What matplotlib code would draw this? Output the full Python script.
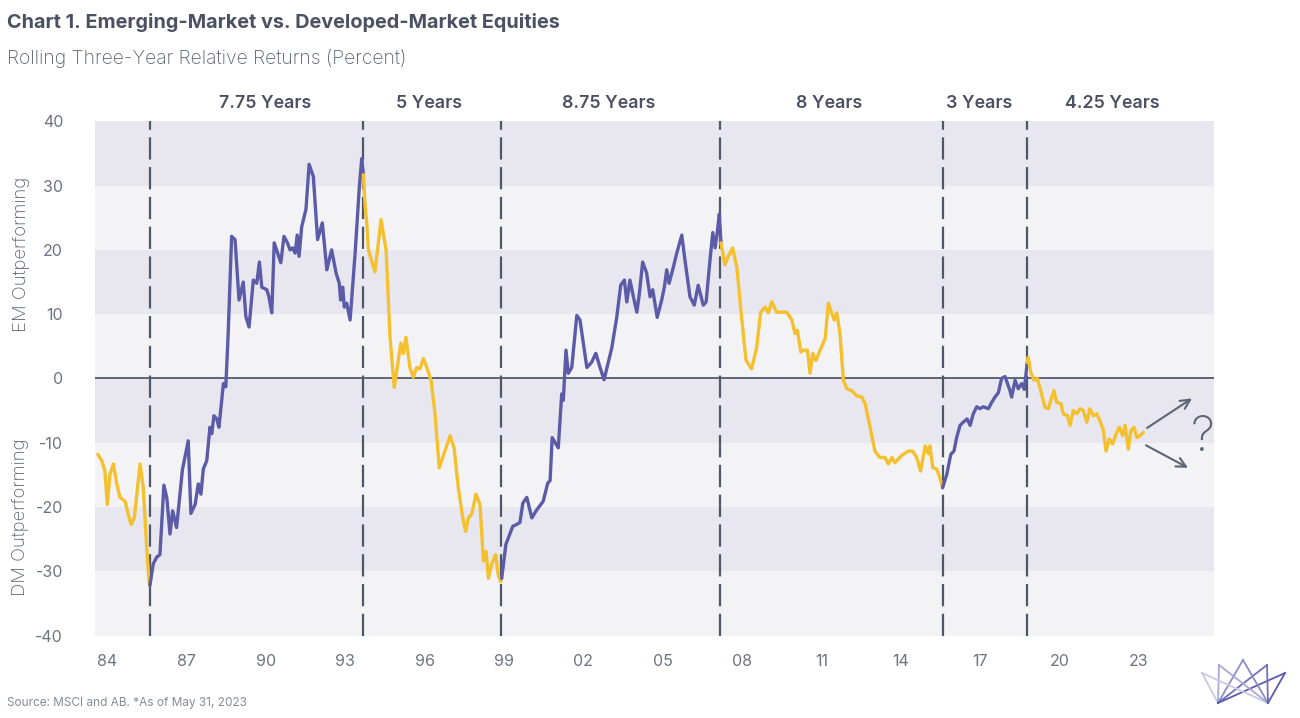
import matplotlib
matplotlib.use("Agg")
import matplotlib.pyplot as plt
from matplotlib.lines import Line2D

plt.rcParams['font.family'] = ['Inter', 'DejaVu Sans']

# ---------------- data (decimal year, rolling 3-yr relative return %) -------------
dates = [
    1983.64, 1983.79, 1983.91, 1984.00, 1984.10, 1984.23, 1984.36, 1984.48, 1984.67, 1984.79,
    1984.90, 1985.02, 1985.24, 1985.36, 1985.49, 1985.58,
    1985.61, 1985.74, 1985.87, 1985.99, 1986.14, 1986.25, 1986.37, 1986.47, 1986.62, 1986.84,
    1987.06, 1987.16, 1987.32, 1987.44, 1987.54, 1987.63, 1987.76, 1987.88, 1987.95, 1988.03,
    1988.14, 1988.22, 1988.39, 1988.48, 1988.57, 1988.70, 1988.83, 1988.98, 1989.14, 1989.24,
    1989.36, 1989.52, 1989.65, 1989.75, 1989.84, 1990.03, 1990.11, 1990.22, 1990.31, 1990.44,
    1990.56, 1990.68, 1990.81, 1990.91, 1991.01, 1991.10, 1991.18, 1991.25, 1991.35, 1991.51,
    1991.63, 1991.79, 1991.95, 1992.13, 1992.30, 1992.48, 1992.65, 1992.77, 1992.82, 1992.90,
    1992.96, 1993.05, 1993.18, 1993.37, 1993.53, 1993.62, 1993.66,
    1993.68, 1993.75, 1993.81, 1993.87, 1994.12, 1994.35, 1994.54, 1994.69, 1994.85, 1995.00,
    1995.10, 1995.19, 1995.29, 1995.44, 1995.57, 1995.70, 1995.82, 1995.95, 1996.08, 1996.24,
    1996.39, 1996.55, 1996.73, 1996.96, 1997.11, 1997.27, 1997.46, 1997.55, 1997.65, 1997.78,
    1997.94, 1998.09, 1998.22, 1998.32, 1998.41, 1998.53, 1998.68, 1998.78, 1998.87,
    1998.91, 1999.07, 1999.33, 1999.48, 1999.60, 1999.71, 1999.86, 2000.05, 2000.21, 2000.48,
    2000.65, 2000.74, 2000.82, 2001.05, 2001.18, 2001.24, 2001.34, 2001.43, 2001.56, 2001.75,
    2001.87, 2002.13, 2002.31, 2002.47, 2002.63, 2002.78, 2003.07, 2003.26, 2003.41, 2003.55,
    2003.64, 2003.76, 2003.89, 2004.02, 2004.11, 2004.24, 2004.39, 2004.52, 2004.62, 2004.79,
    2004.96, 2005.06, 2005.15, 2005.24, 2005.40, 2005.53, 2005.72, 2005.84, 2006.03, 2006.19,
    2006.34, 2006.53, 2006.64, 2006.76, 2006.89, 2006.98, 2007.06, 2007.14,
    2007.20, 2007.35, 2007.48, 2007.64, 2007.80, 2007.99, 2008.15, 2008.36, 2008.55, 2008.70,
    2008.87, 2008.99, 2009.12, 2009.31, 2009.69, 2009.88, 2010.00, 2010.09, 2010.22, 2010.31,
    2010.47, 2010.57, 2010.67, 2010.79, 2010.95, 2011.14, 2011.26, 2011.39, 2011.48, 2011.58,
    2011.70, 2011.83, 2011.96, 2012.14, 2012.33, 2012.52, 2012.65, 2012.81, 2013.02, 2013.21,
    2013.40, 2013.53, 2013.66, 2013.78, 2014.03, 2014.28, 2014.45, 2014.60, 2014.75, 2014.92,
    2015.04, 2015.10, 2015.21, 2015.36, 2015.48,
    2015.58, 2015.74, 2015.89, 2016.01, 2016.11, 2016.24, 2016.36, 2016.51, 2016.62, 2016.74,
    2016.87, 2016.99, 2017.12, 2017.31, 2017.44, 2017.56, 2017.69, 2017.81, 2017.94, 2018.06,
    2018.13, 2018.19, 2018.32, 2018.44, 2018.57, 2018.67, 2018.78,
    2018.82, 2018.91, 2019.04, 2019.16, 2019.29, 2019.45, 2019.58, 2019.67, 2019.79, 2019.89,
    2020.05, 2020.14, 2020.30, 2020.40, 2020.52, 2020.65, 2020.78, 2020.90, 2021.03, 2021.15,
    2021.28, 2021.41, 2021.53, 2021.66, 2021.76, 2021.88, 2022.01, 2022.14, 2022.26, 2022.39,
    2022.48, 2022.60, 2022.70, 2022.82, 2022.92, 2023.04, 2023.17,
]
values = [
    -11.8, -12.8, -14.4, -19.6, -14.9, -13.3, -16.4, -18.5, -19.1, -21.1,
    -22.7, -21.7, -13.3, -17.0, -26.4, -31.6,
    -32.2, -28.8, -27.8, -27.4, -16.6, -18.6, -24.2, -20.6, -23.2, -14.2,
    -9.7, -21.0, -19.6, -16.4, -18.0, -14.1, -12.8, -7.6, -8.6, -5.8,
    -6.3, -7.6, -0.8, -1.3, 7.0, 22.1, 21.6, 12.2, 15.0, 9.6,
    8.0, 15.3, 14.8, 18.1, 14.2, 13.8, 12.7, 10.2, 21.1, 19.5,
    18.0, 22.1, 21.1, 20.0, 20.3, 19.5, 22.3, 19.0, 23.6, 26.3,
    33.3, 31.4, 21.6, 24.2, 16.9, 20.0, 16.4, 14.8, 12.2, 14.2,
    11.1, 11.7, 9.1, 19.5, 29.9, 34.2, 32.5,
    31.7, 26.7, 24.2, 20.0, 16.6, 24.7, 20.0, 6.4, -1.4, 2.8,
    5.5, 3.9, 6.4, 1.7, 0.2, 1.7, 1.5, 3.1, 1.7, -0.3,
    -5.5, -13.9, -11.7, -8.9, -10.8, -17.0, -22.2, -23.8, -21.7, -21.1,
    -18.0, -19.6, -28.4, -26.9, -31.1, -28.9, -27.4, -30.5, -31.6,
    -31.1, -25.8, -23.0, -22.7, -22.4, -19.4, -18.5, -21.7, -20.6, -19.1,
    -16.3, -15.9, -9.2, -10.8, -2.4, -3.4, 4.4, 0.8, 1.7, 9.8,
    9.1, 1.7, 2.5, 3.9, 1.7, -0.2, 4.7, 9.5, 14.5, 15.3,
    11.9, 15.3, 12.7, 10.3, 13.0, 18.1, 16.4, 12.7, 13.8, 9.5,
    12.2, 14.2, 16.9, 14.8, 17.3, 19.5, 22.3, 18.4, 12.7, 11.4,
    14.5, 11.4, 11.9, 17.3, 22.7, 20.3, 22.7, 25.6,
    21.1, 17.7, 19.0, 20.3, 17.3, 9.1, 2.8, 1.5, 4.8, 10.3,
    11.1, 10.2, 11.9, 10.3, 10.3, 9.1, 7.0, 7.5, 4.1, 4.4,
    4.4, 0.8, 3.9, 2.8, 4.4, 6.2, 11.7, 10.2, 9.1, 10.2,
    7.0, -0.3, -1.6, -1.9, -2.7, -2.9, -3.9, -7.0, -11.3, -12.3,
    -12.3, -13.3, -12.3, -13.1, -12.0, -11.3, -11.3, -12.3, -14.4, -10.5,
    -11.7, -10.5, -13.9, -14.1, -15.5,
    -17.0, -14.9, -11.8, -11.3, -9.2, -7.3, -6.8, -6.3, -7.3, -5.5,
    -4.4, -4.7, -4.4, -4.7, -3.7, -2.9, -2.2, 0.0, 0.3, -1.1,
    -1.9, -2.9, -0.3, -1.6, -0.8, -1.7, 2.5,
    3.3, 1.0, -0.3, 0.0, -1.9, -4.5, -4.7, -3.4, -1.9, -3.7,
    -3.9, -5.5, -5.8, -7.3, -5.0, -5.5, -4.7, -5.0, -6.8, -4.7,
    -5.8, -5.5, -6.6, -8.1, -11.3, -9.4, -10.2, -8.6, -7.6, -8.9,
    -7.3, -11.0, -8.1, -7.6, -9.2, -8.9, -8.4,
]

# turning points (dashed lines) and which market led in each regime
turns = [1985.61, 1993.68, 1998.89, 2007.17, 2015.58, 2018.76]
regime_leader = ['DM', 'EM', 'DM', 'EM', 'DM', 'EM', 'DM']
period_labels = ['7.75 Years', '5 Years', '8.75 Years', '8 Years', '3 Years', '4.25 Years']
period_label_x = [1989.96, 1996.16, 2002.97, 2011.29, 2016.96, 2021.98]

y_ticks = [40, 30, 20, 10, 0, -10, -20, -30, -40]
x_tick_years = list(range(1984, 2024, 3))
x_tick_labels = ['84', '87', '90', '93', '96', '99', '02', '05', '08', '11', '14', '17', '20', '23']

# ---------------- styling ----------------
PURPLE = '#5b5ba8'
YELLOW = '#f5c02d'
DARK_BAND = '#e8e7ef'
LIGHT_BAND = '#f3f3f6'
TEXT = '#4b5162'
TICK = '#6e7382'

W, H = 1300, 718
fig = plt.figure(figsize=(W / 100, H / 100), dpi=100)
fig.patch.set_facecolor('white')

ax_l, ax_r, ax_t, ax_b = 95, 1214, 121.3, 635.6
ax = fig.add_axes([ax_l / W, 1 - ax_b / H, (ax_r - ax_l) / W, (ax_b - ax_t) / H])

# bands
for lo in range(-40, 40, 10):
    ax.axhspan(lo, lo + 10, color=DARK_BAND if (lo // 10) % 2 == 1 else LIGHT_BAND,
               lw=0, zorder=0)

ax.axhline(0, color='#5d6474', lw=1.4, zorder=2)

for t in turns:
    ax.axvline(t, color='#4f5666', lw=1.6, dashes=(10, 3.4), zorder=3)

# series split into regimes
bounds = [-1e9] + turns + [1e9]
for i in range(len(bounds) - 1):
    xs, ys = [], []
    for d, v in zip(dates, values):
        if bounds[i] <= d < bounds[i + 1]:
            xs.append(d)
            ys.append(v)
    nxt = [(d, v) for d, v in zip(dates, values) if d >= bounds[i + 1]]
    if nxt:
        xs.append(nxt[0][0])
        ys.append(nxt[0][1])
    ax.plot(xs, ys, color=PURPLE if regime_leader[i] == 'EM' else YELLOW,
            lw=2.4, solid_joinstyle='round', solid_capstyle='round', zorder=4)

ax.set_xlim(1983.535, 2025.841)
ax.set_ylim(-40, 40)
ax.set_yticks(y_ticks)
ax.set_yticklabels([str(v) for v in y_ticks])
ax.set_xticks(x_tick_years)
ax.set_xticklabels(x_tick_labels)
ax.tick_params(axis='both', length=0, labelsize=11.5, colors=TICK)
ax.tick_params(axis='y', pad=23)
ax.tick_params(axis='x', pad=13)
for s in ax.spines.values():
    s.set_visible(False)

# period labels
for lab, xp in zip(period_labels, period_label_x):
    ax.text(xp, 42.8, lab, ha='center', va='center', fontsize=12.8,
            weight='semibold', color=TEXT, clip_on=False)

# outlook arrows and question mark
arrows = [((2023.31, -7.7), (2025.01, -3.1)), ((2023.27, -10.4), (2024.86, -13.9))]
for start, end in arrows:
    ax.annotate('', xy=end, xytext=start,
                arrowprops=dict(arrowstyle='->', color='#5d6474', lw=1.5,
                                mutation_scale=17, shrinkA=0, shrinkB=0), zorder=5)
ax.text(2025.40, -9.3, '?', ha='center', va='center', fontsize=35, color='#5d6474',
        weight='light')

# titles
fig.text(7 / W, 1 - 23 / H, 'Chart 1. Emerging-Market vs. Developed-Market Equities',
         fontsize=14.3, weight='bold', color=TEXT, va='center', ha='left')
fig.text(7 / W, 1 - 58 / H, 'Rolling Three-Year Relative Returns (Percent)',
         fontsize=13.9, color='#5b6070', va='center', ha='left', weight='light')
fig.text(22 / W, 1 - 254 / H, 'EM Outperforming', rotation=90, fontsize=13.3,
         color='#5b6070', ha='center', va='center', weight='light')
fig.text(21 / W, 1 - 517 / H, 'DM Outperforming', rotation=90, fontsize=13.3,
         color='#5b6070', ha='center', va='center', weight='light')
fig.text(7 / W, 1 - 703 / H, 'Source: MSCI and AB. *As of May 31, 2023',
         fontsize=8.5, color='#858a95', va='center', ha='left')

# logo (decorative)
def P(x, y):
    return (x / W, 1 - y / H)

tips = [(1202, 673), (1219, 665), (1243, 660), (1267, 665), (1285, 673)]
bases = [(1218, 703), (1268, 703)]
shades = ['#c9c9e4', '#a9a9d4', '#8c8cc6', '#7070b8', '#5b5ba8']
for b in bases:
    for tip, c in zip(tips, shades):
        (x0, y0), (x1, y1) = P(*b), P(*tip)
        fig.add_artist(Line2D([x0, x1], [y0, y1], transform=fig.transFigure,
                              color=c, lw=1.3))

fig.savefig('out.png', dpi=100)
